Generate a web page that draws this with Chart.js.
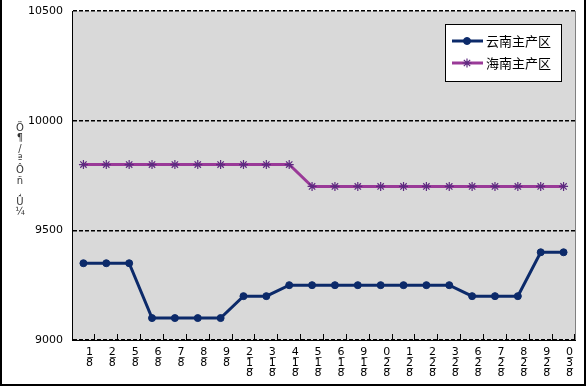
<!DOCTYPE html>
<html><head><meta charset="utf-8">
<script src="https://cdn.jsdelivr.net/npm/chart.js@4.4.0/dist/chart.umd.min.js"></script>
<style>html,body{margin:0;padding:0;background:#fff;} #wrap{width:586px;height:386px;}</style>
</head><body><div id="wrap"><canvas id="c" width="586" height="386"></canvas></div>
<script>
const month = 8;
const days = [1,2,5,6,7,8,9,12,13,14,15,16,19,20,21,22,23,26,27,28,29,30];
const yunnan = [9350,9350,9350,9100,9100,9100,9100,9200,9200,9250,9250,9250,9250,9250,9250,9250,9250,9200,9200,9200,9400,9400];
const hainan = [9800,9800,9800,9800,9800,9800,9800,9800,9800,9800,9700,9700,9700,9700,9700,9700,9700,9700,9700,9700,9700,9700];
const seriesNames = ['云南主产区','海南主产区'];
const yMin = 9000, yMax = 10500, yStep = 500;
const yTitleChars = ['Ö','¶','/','ª','Ô','ñ','¸','Û','¼'];

const labels = days.map(d => month + '/' + d);

const colors = { yn: '#0c2a6a', hn: '#9a3a98', hnPt: '#5e2a80' };

const decor = {
  id: 'decor',
  beforeDraw(chart) {
    const {ctx, chartArea: a} = chart;
    ctx.save();
    ctx.fillStyle = '#fff';
    ctx.fillRect(0, 0, chart.width, chart.height);
    ctx.fillStyle = '#d9d9d9';
    ctx.fillRect(a.left, a.top, a.right - a.left, a.bottom - a.top);
    ctx.restore();
  },
  afterDraw(chart) {
    const {ctx, chartArea: a} = chart;
    ctx.save();
    ctx.strokeStyle = '#808080';
    ctx.lineWidth = 1;
    ctx.beginPath(); ctx.moveTo(a.right + 0.5, a.top); ctx.lineTo(a.right + 0.5, a.bottom); ctx.stroke();
    ctx.strokeStyle = '#000';
    ctx.lineWidth = 2;
    ctx.beginPath();
    ctx.moveTo(1, 0); ctx.lineTo(1, chart.height - 1); ctx.lineTo(chart.width - 1, chart.height - 1); ctx.lineTo(chart.width - 1, 0);
    ctx.stroke();
    ctx.fillStyle = '#333';
    ctx.font = '10px "DejaVu Sans"';
    ctx.textAlign = 'center';
    ctx.textBaseline = 'middle';
    yTitleChars.forEach((ch, i) => ctx.fillText(ch, 20, 128 + i * 10.6));
    const bx = 445.5, by = 24.5, bw = 116, bh = 57;
    ctx.fillStyle = '#fff';
    ctx.fillRect(bx, by, bw, bh);
    ctx.strokeStyle = '#000';
    ctx.lineWidth = 1;
    ctx.strokeRect(bx, by, bw, bh);
    const ds = chart.data.datasets;
    [41, 63].forEach((y, i) => {
      const d = ds[i];
      ctx.strokeStyle = d.borderColor;
      ctx.lineWidth = 3;
      ctx.beginPath(); ctx.moveTo(452, y); ctx.lineTo(483, y); ctx.stroke();
      ctx.fillStyle = d.pointBackgroundColor;
      ctx.strokeStyle = d.pointBorderColor;
      ctx.lineWidth = d.pointBorderWidth;
      Chart.helpers.drawPoint(ctx, {pointStyle: d.pointStyle, radius: d.pointRadius, borderWidth: d.pointBorderWidth, rotation: 0}, 467, y);
      ctx.fillStyle = '#000';
      ctx.font = '13px "Noto Sans CJK SC"';
      ctx.textAlign = 'left';
      ctx.textBaseline = 'middle';
      ctx.fillText(seriesNames[i], 486, y);
    });
    ctx.restore();
  }
};

new Chart(document.getElementById('c'), {
  type: 'line',
  data: {
    labels,
    datasets: [
      { label: seriesNames[0], data: yunnan, borderColor: colors.yn, backgroundColor: colors.yn,
        borderWidth: 3, pointStyle: 'circle', pointRadius: 3.5, pointBackgroundColor: colors.yn,
        pointBorderColor: colors.yn, pointBorderWidth: 1, tension: 0 },
      { label: seriesNames[1], data: hainan, borderColor: colors.hn, backgroundColor: colors.hn,
        borderWidth: 3, pointStyle: 'star', pointRadius: 4.5, pointBackgroundColor: colors.hnPt,
        pointBorderColor: colors.hnPt, pointBorderWidth: 1.2, tension: 0 }
    ]
  },
  options: {
    responsive: false,
    animation: false,
    layout: { padding: { left: 0, right: 11, top: 11, bottom: 0 } },
    plugins: { legend: { display: false }, tooltip: { enabled: false } },
    scales: {
      x: {
        type: 'category',
        offset: true,
        grid: { offset: true, drawOnChartArea: false, tickLength: -6, tickColor: '#000', tickWidth: 1 },
        border: { color: '#000', width: 1 },
        ticks: {
          autoSkip: false, maxRotation: 0, minRotation: 0, padding: 13, labelOffset: 6,
          color: '#000', font: { family: 'DejaVu Sans', size: 11, lineHeight: 0.95 },
          callback(v, i) {
            const d = String(days[i]).split('').reverse();
            return d.map(c => c + '\u0332').concat([String(month)]);
          }
        },
        afterFit(s) { s.height = 46; s.paddingLeft = 0; s.paddingRight = 0; }
      },
      y: {
        min: yMin, max: yMax,
        ticks: { stepSize: yStep, color: '#000', padding: 9, font: { family: 'DejaVu Sans', size: 11 },
          callback: v => String(v) },
        grid: { color: '#000', lineWidth: 1.5, drawTicks: false },
        border: { color: '#000', width: 1, dash: [4, 2] },
        afterFit(s) { s.width = 72; s.paddingTop = 0; s.paddingBottom = 0; }
      }
    }
  },
  plugins: [decor]
});
</script>
</body></html>
